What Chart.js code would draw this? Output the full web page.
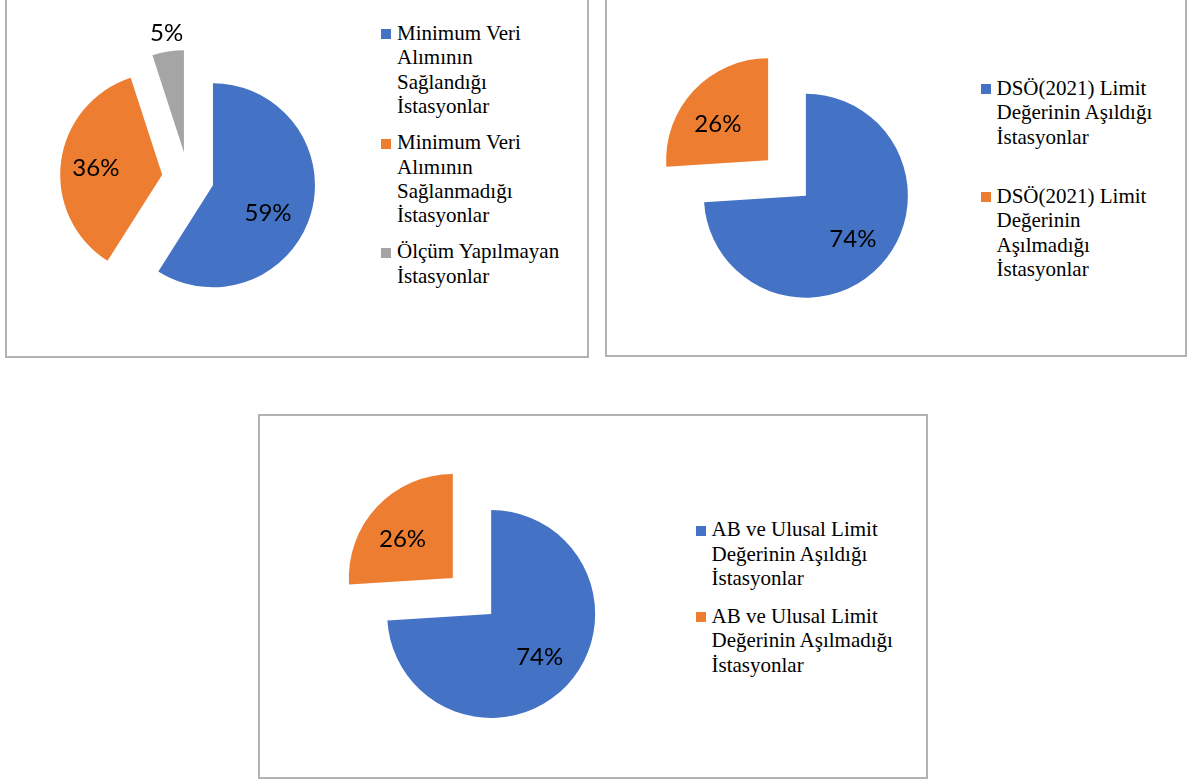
<!DOCTYPE html>
<html lang="tr">
<head>
<meta charset="utf-8">
<script src="https://cdn.jsdelivr.net/npm/chart.js@4.4.0/dist/chart.umd.min.js"></script>
<style>
  body { margin: 0; width: 1187px; height: 783px; background: #fff; position: relative; overflow: hidden; }
  .box { position: absolute; box-sizing: border-box; border: 2px solid #b3b3b3; }
  canvas { position: absolute; }
  .item { position: absolute; white-space: nowrap; font-family: "Liberation Serif", "Times New Roman", serif;
          font-size: 21px; line-height: 24.4px; color: #000; }
  .sw { position: absolute; width: 10px; height: 10px; }
</style>
</head>
<body>
<div class="box" style="left:5px; top:-10px; width:584px; height:368px;"></div>
<div class="box" style="left:605px; top:-10px; width:582px; height:367px;"></div>
<div class="box" style="left:258px; top:414px; width:670px; height:365px;"></div>

<canvas id="c1"></canvas>
<canvas id="c2"></canvas>
<canvas id="c3"></canvas>

<script>
// data
const labels1 = [['Minimum Veri', 'Alımının', 'Sağlandığı', 'İstasyonlar'],
                 ['Minimum Veri', 'Alımının', 'Sağlanmadığı', 'İstasyonlar'],
                 ['Ölçüm Yapılmayan', 'İstasyonlar']];
const values1 = [59, 36, 5];

const labels2 = [['DSÖ(2021) Limit', 'Değerinin Aşıldığı', 'İstasyonlar'],
                 ['DSÖ(2021) Limit', 'Değerinin', 'Aşılmadığı', 'İstasyonlar']];
const values2 = [74, 26];

const labels3 = [['AB ve Ulusal Limit', 'Değerinin Aşıldığı', 'İstasyonlar'],
                 ['AB ve Ulusal Limit', 'Değerinin Aşılmadığı', 'İstasyonlar']];
const values3 = [74, 26];

const colors = ['#4472C4', '#ED7D31', '#A5A5A5'];

// layout of each chart on the page
const M = 70;
const layouts = [
  { id: 'c1', labels: labels1, values: values1, cx: 188, cy: 178, r: 102, explode: 26,
    dist: [0.604, 0.654, 1.19], turn: [10.5, -0.9, 0.8],
    legend: { sx: 381, tx: 397, baselines: [40, 149.5, 258.5] } },
  { id: 'c2', labels: labels2, values: values2, cx: 787, cy: 177.6, r: 102, explode: 25.9,
    dist: [0.625, 0.61], turn: [-0.7, -7],
    legend: { sx: 981, tx: 996.5, baselines: [95, 203.3] } },
  { id: 'c3', labels: labels3, values: values3, cx: 471.5, cy: 596.3, r: 104, explode: 26.3,
    dist: [0.62, 0.615], turn: [-2, -5],
    legend: { sx: 696, tx: 711.5, baselines: [536.7, 623.3] } }
];

// pulls every slice out along its middle angle
const explodePlugin = {
  id: 'explode',
  beforeDatasetDraw(chart, args, opts) {
    const ctx = chart.ctx;
    args.meta.data.forEach(arc => {
      const mid = (arc.startAngle + arc.endAngle) / 2;
      ctx.save();
      ctx.translate(Math.cos(mid) * opts.distance, Math.sin(mid) * opts.distance);
      arc.draw(ctx);
      ctx.restore();
    });
    return false;
  }
};

// percentage labels
const pctPlugin = {
  id: 'pct',
  afterDatasetsDraw(chart, args, opts) {
    const ctx = chart.ctx;
    const meta = chart.getDatasetMeta(0);
    const data = chart.data.datasets[0].data;
    const total = data.reduce((a, b) => a + b, 0);
    ctx.save();
    ctx.font = '24px Lato';
    ctx.fillStyle = '#000';
    ctx.textAlign = 'center';
    ctx.textBaseline = 'alphabetic';
    meta.data.forEach((arc, i) => {
      const mid = (arc.startAngle + arc.endAngle) / 2;
      const ax = arc.x + Math.cos(mid) * opts.distance;
      const ay = arc.y + Math.sin(mid) * opts.distance;
      const a = mid + opts.turn[i] * Math.PI / 180;
      const d = opts.dist[i] * arc.outerRadius;
      ctx.fillText(Math.round(data[i] / total * 100) + '%', ax + Math.cos(a) * d, ay + Math.sin(a) * d + 8.5);
    });
    ctx.restore();
  }
};

function makeLegend(l) {
  l.labels.forEach((lines, i) => {
    const base = l.legend.baselines[i];
    const sw = document.createElement('div');
    sw.className = 'sw';
    sw.style.left = l.legend.sx + 'px';
    sw.style.top = (base - 11) + 'px';
    sw.style.background = colors[i];
    document.body.appendChild(sw);

    const item = document.createElement('div');
    item.className = 'item';
    item.style.left = l.legend.tx + 'px';
    item.style.top = (base - 19.3) + 'px';
    lines.forEach((t, j) => {
      if (j > 0) item.appendChild(document.createElement('br'));
      item.appendChild(document.createTextNode(t));
    });
    document.body.appendChild(item);
  });
}

function makeChart(l) {
  const canvas = document.getElementById(l.id);
  const size = 2 * (l.r + M);
  canvas.width = size;
  canvas.height = size;
  canvas.style.left = (l.cx - l.r - M) + 'px';
  canvas.style.top = (l.cy - l.r - M) + 'px';

  new Chart(canvas.getContext('2d'), {
    type: 'pie',
    data: {
      labels: l.labels,
      datasets: [{
        data: l.values,
        backgroundColor: colors.slice(0, l.values.length),
        borderWidth: 0,
        hoverBorderWidth: 0,
        hoverOffset: 0
      }]
    },
    options: {
      responsive: false,
      animation: false,
      events: [],
      layout: { padding: M },
      plugins: {
        legend: { display: false },
        tooltip: { enabled: false },
        explode: { distance: l.explode },
        pct: { distance: l.explode, dist: l.dist, turn: l.turn }
      }
    },
    plugins: [explodePlugin, pctPlugin]
  });
  makeLegend(l);
}

document.fonts.load('24px Lato').then(() => {
  layouts.forEach(makeChart);
});
</script>
</body>
</html>
